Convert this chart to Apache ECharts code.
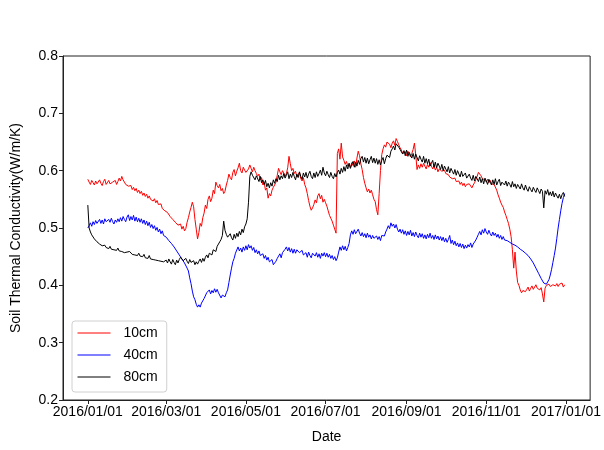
<!DOCTYPE html>
<html>
<head>
<meta charset="utf-8">
<script src="https://cdn.jsdelivr.net/npm/echarts@6/dist/echarts.min.js"></script>
<style>html,body{margin:0;padding:0;background:#fff}#c{width:604px;height:450px}</style>
</head>
<body>
<div id="c"></div>
<script>
// Daily series starting 2016/01/01
const startDate = '2016-01-01';
const stepDays = 1;
const seriesNames = ['10cm', '40cm', '80cm'];
const tickLabels = ['2016/01/01', '2016/03/01', '2016/05/01', '2016/07/01', '2016/09/01', '2016/11/01', '2017/01/01'];

const cm10 = [
0.585,0.580,0.576,0.583,0.579,0.575,0.582,0.577,0.580,0.584,
0.578,0.574,0.581,0.585,0.576,0.579,0.583,0.577,0.574,0.580,
0.578,0.583,0.576,0.581,0.587,0.582,0.590,0.584,0.580,0.576,
0.579,0.573,0.570,0.574,0.567,0.571,0.565,0.569,0.562,0.566,
0.560,0.564,0.557,0.561,0.555,0.559,0.552,0.556,0.550,0.553,
0.547,0.551,0.544,0.548,0.541,0.538,0.542,0.534,0.537,0.530,
0.533,0.527,0.524,0.520,0.523,0.515,0.518,0.510,0.513,0.505,
0.502,0.507,0.498,0.503,0.495,0.499,0.510,0.518,0.528,0.536,
0.545,0.537,0.515,0.498,0.481,0.492,0.508,0.503,0.518,0.526,
0.540,0.534,0.550,0.556,0.546,0.552,0.566,0.560,0.580,0.574,
0.570,0.576,0.565,0.569,0.560,0.564,0.575,0.583,0.594,0.588,
0.584,0.597,0.602,0.591,0.599,0.605,0.613,0.600,0.596,0.606,
0.601,0.597,0.594,0.603,0.610,0.604,0.598,0.606,0.600,0.595,
0.590,0.594,0.584,0.588,0.575,0.579,0.566,0.570,0.552,0.560,
0.556,0.566,0.571,0.575,0.580,0.592,0.604,0.598,0.593,0.600,
0.596,0.590,0.595,0.605,0.625,0.612,0.600,0.604,0.595,0.599,
0.589,0.593,0.597,0.586,0.582,0.588,0.576,0.570,0.560,0.548,
0.538,0.531,0.535,0.541,0.549,0.544,0.556,0.560,0.551,0.557,
0.545,0.550,0.544,0.538,0.530,0.522,0.517,0.512,0.505,0.498,
0.491,0.630,0.638,0.620,0.648,0.624,0.618,0.611,0.616,0.608,
0.612,0.605,0.614,0.609,0.617,0.606,0.622,0.634,0.626,0.612,
0.602,0.588,0.578,0.570,0.563,0.568,0.561,0.566,0.558,0.550,
0.546,0.532,0.523,0.560,0.600,0.628,0.638,0.645,0.641,0.650,
0.653,0.646,0.640,0.648,0.652,0.644,0.656,0.651,0.645,0.640,
0.636,0.630,0.627,0.633,0.626,0.634,0.629,0.624,0.630,0.637,
0.648,0.628,0.602,0.610,0.604,0.612,0.606,0.613,0.608,0.603,
0.611,0.606,0.614,0.608,0.603,0.609,0.601,0.606,0.598,0.603,
0.604,0.599,0.596,0.601,0.595,0.598,0.593,0.589,0.592,0.586,
0.583,0.587,0.581,0.578,0.582,0.576,0.580,0.574,0.578,0.572,
0.576,0.573,0.577,0.574,0.570,0.575,0.579,0.584,0.590,0.597,
0.598,0.591,0.586,0.589,0.584,0.580,0.585,0.579,0.583,0.577,
0.580,0.576,0.573,0.566,0.558,0.552,0.545,0.540,0.536,0.528,
0.522,0.515,0.508,0.498,0.485,0.462,0.430,0.458,0.425,0.405,
0.400,0.392,0.387,0.391,0.394,0.389,0.393,0.397,0.390,0.395,
0.399,0.393,0.396,0.401,0.395,0.398,0.392,0.396,0.385,0.371,
0.395,0.400,0.397,0.402,0.398,0.396,0.401,0.404,0.399,0.403,
0.398,0.402,0.399,0.404,0.397,0.401
];
const cm40 = [
0.500,0.504,0.509,0.503,0.511,0.506,0.513,0.508,0.510,0.515,
0.508,0.514,0.507,0.516,0.511,0.509,0.515,0.510,0.517,0.511,
0.507,0.514,0.510,0.516,0.511,0.518,0.512,0.520,0.515,0.511,
0.519,0.523,0.513,0.520,0.514,0.522,0.512,0.519,0.511,0.517,
0.510,0.516,0.508,0.514,0.506,0.512,0.504,0.510,0.501,0.506,
0.499,0.504,0.496,0.501,0.493,0.498,0.490,0.495,0.487,0.488,
0.484,0.483,0.478,0.479,0.473,0.474,0.467,0.466,0.460,0.459,
0.453,0.453,0.446,0.445,0.439,0.437,0.430,0.425,0.413,0.403,
0.390,0.380,0.375,0.367,0.362,0.366,0.362,0.369,0.371,0.377,
0.380,0.387,0.388,0.392,0.385,0.391,0.387,0.394,0.388,0.393,
0.387,0.385,0.378,0.383,0.384,0.380,0.387,0.392,0.405,0.418,
0.430,0.441,0.447,0.456,0.459,0.467,0.460,0.465,0.458,0.467,
0.461,0.469,0.462,0.471,0.465,0.469,0.461,0.466,0.457,0.462,
0.455,0.460,0.452,0.451,0.455,0.447,0.452,0.444,0.449,0.441,
0.441,0.445,0.436,0.437,0.442,0.447,0.449,0.455,0.448,0.457,
0.458,0.463,0.467,0.460,0.466,0.458,0.464,0.456,0.463,0.456,
0.462,0.465,0.457,0.456,0.461,0.453,0.451,0.457,0.449,0.458,
0.452,0.448,0.456,0.459,0.451,0.457,0.449,0.455,0.447,0.456,
0.451,0.457,0.450,0.456,0.449,0.454,0.447,0.452,0.445,0.450,
0.443,0.448,0.458,0.467,0.461,0.469,0.462,0.468,0.460,0.466,
0.473,0.488,0.495,0.489,0.497,0.490,0.487,0.498,0.491,0.486,
0.492,0.485,0.490,0.483,0.491,0.484,0.488,0.481,0.487,0.482,
0.479,0.486,0.480,0.485,0.478,0.487,0.490,0.486,0.493,0.498,
0.504,0.499,0.509,0.503,0.507,0.500,0.506,0.498,0.493,0.498,
0.491,0.497,0.489,0.495,0.487,0.494,0.488,0.496,0.486,0.492,
0.485,0.493,0.487,0.483,0.491,0.484,0.490,0.482,0.488,0.481,
0.489,0.483,0.491,0.482,0.487,0.480,0.488,0.481,0.486,0.479,
0.485,0.478,0.484,0.476,0.482,0.475,0.480,0.487,0.473,0.479,
0.471,0.477,0.469,0.474,0.467,0.473,0.466,0.472,0.464,0.470,
0.465,0.471,0.467,0.474,0.466,0.472,0.474,0.479,0.484,0.489,
0.494,0.488,0.497,0.491,0.499,0.493,0.489,0.496,0.490,0.486,
0.493,0.487,0.491,0.484,0.489,0.482,0.487,0.480,0.485,0.479,
0.482,0.478,0.480,0.475,0.477,0.472,0.475,0.470,0.472,0.467,
0.468,0.463,0.465,0.460,0.461,0.456,0.457,0.452,0.450,0.446,
0.444,0.439,0.436,0.430,0.428,0.421,0.418,0.412,0.409,0.404,
0.406,0.402,0.405,0.410,0.418,0.428,0.440,0.452,0.465,0.482,
0.500,0.515,0.530,0.543,0.553,0.560
];
const cm80 = [
0.540,0.500,0.493,0.488,0.485,0.481,0.478,0.476,0.474,0.472,
0.471,0.469,0.468,0.470,0.466,0.467,0.464,0.468,0.463,0.465,
0.462,0.464,0.461,0.465,0.460,0.462,0.459,0.461,0.457,0.460,
0.458,0.455,0.459,0.456,0.454,0.457,0.453,0.455,0.452,0.456,
0.451,0.453,0.450,0.454,0.448,0.451,0.447,0.452,0.446,0.449,
0.445,0.448,0.444,0.447,0.443,0.446,0.442,0.445,0.441,0.444,
0.444,0.439,0.446,0.441,0.437,0.445,0.440,0.436,0.444,0.439,
0.445,0.449,0.447,0.443,0.440,0.447,0.442,0.438,0.445,0.440,
0.437,0.443,0.436,0.441,0.437,0.442,0.446,0.440,0.447,0.442,
0.449,0.453,0.448,0.456,0.459,0.453,0.462,0.465,0.459,0.468,
0.472,0.476,0.480,0.487,0.512,0.496,0.489,0.484,0.481,0.490,
0.483,0.479,0.489,0.482,0.491,0.485,0.494,0.488,0.498,0.492,
0.502,0.507,0.516,0.545,0.590,0.598,0.592,0.589,0.584,0.591,
0.588,0.581,0.590,0.579,0.584,0.576,0.583,0.572,0.578,0.570,
0.579,0.573,0.584,0.578,0.586,0.581,0.592,0.584,0.591,0.586,
0.595,0.587,0.592,0.598,0.586,0.594,0.588,0.597,0.590,0.584,
0.594,0.588,0.598,0.590,0.585,0.596,0.589,0.597,0.587,0.594,
0.599,0.590,0.586,0.596,0.588,0.598,0.590,0.595,0.601,0.592,
0.606,0.596,0.591,0.599,0.593,0.588,0.597,0.590,0.586,0.595,
0.589,0.597,0.601,0.594,0.604,0.597,0.607,0.599,0.610,0.603,
0.613,0.604,0.611,0.616,0.606,0.615,0.608,0.618,0.611,0.621,
0.625,0.615,0.623,0.613,0.622,0.612,0.619,0.625,0.614,0.622,
0.613,0.621,0.611,0.619,0.610,0.618,0.623,0.612,0.621,0.627,
0.630,0.623,0.634,0.638,0.643,0.636,0.647,0.650,0.641,0.637,
0.638,0.629,0.635,0.626,0.636,0.625,0.632,0.634,0.622,0.630,
0.620,0.629,0.626,0.617,0.626,0.620,0.615,0.625,0.613,0.621,
0.612,0.620,0.608,0.613,0.618,0.606,0.615,0.605,0.613,0.608,
0.602,0.611,0.600,0.608,0.603,0.598,0.607,0.596,0.604,0.599,
0.594,0.602,0.592,0.600,0.597,0.589,0.599,0.590,0.588,0.596,
0.587,0.584,0.594,0.587,0.583,0.592,0.582,0.590,0.586,0.581,
0.589,0.579,0.586,0.577,0.587,0.582,0.576,0.585,0.580,0.575,
0.584,0.576,0.586,0.575,0.581,0.585,0.574,0.580,0.583,0.575,
0.582,0.573,0.580,0.576,0.571,0.581,0.572,0.577,0.569,0.576,
0.574,0.568,0.577,0.570,0.566,0.575,0.568,0.564,0.572,0.567,
0.563,0.571,0.566,0.562,0.570,0.565,0.560,0.568,0.564,0.535,
0.565,0.559,0.567,0.557,0.563,0.556,0.564,0.554,0.561,0.556,
0.552,0.559,0.551,0.558,0.562,0.555
];

const DAY = 86400000;
const t0 = Date.parse(startDate + 'T00:00:00Z');
function toPairs(arr) { return arr.map((v, i) => [t0 + i * stepDays * DAY, v]); }
function parseTick(s) { const p = s.split('/'); return Date.UTC(+p[0], +p[1] - 1, +p[2]); }
const tickValues = tickLabels.map(parseTick);
function fmt(v) {
  const d = new Date(v);
  const p = n => (n < 10 ? '0' : '') + n;
  return d.getUTCFullYear() + '/' + p(d.getUTCMonth() + 1) + '/' + p(d.getUTCDate());
}

const FONT = 'Liberation Sans, Arial, sans-serif';
const chart = echarts.init(document.getElementById('c'), null, { renderer: 'canvas' });
const colors = ['#ff0000', '#0000ff', '#000000'];
const allData = [cm10, cm40, cm80];

chart.setOption({
  animation: false,
  backgroundColor: '#ffffff',
  grid: { left: 63, right: 12, top: 56, bottom: 50, show: true, borderColor: '#222', borderWidth: 1, backgroundColor: 'transparent' },
  legend: {
    orient: 'vertical', left: 72, top: 321,
    padding: [5, 9, 8, 5],
    itemWidth: 33, itemHeight: 14, itemGap: 8,
    backgroundColor: 'rgba(255,255,255,0.8)',
    borderColor: '#d0d0d0', borderWidth: 1, borderRadius: 3,
    itemStyle: { opacity: 0 },
    lineStyle: { width: 1 },
    textStyle: { fontFamily: FONT, fontSize: 14, color: '#000', padding: [0, 0, 0, 8] },
    data: seriesNames
  },
  xAxis: {
    type: 'value',
    min: t0 - 19 * DAY,
    max: Date.UTC(2017, 0, 1) + 18.5 * DAY,
    name: 'Date', nameLocation: 'middle', nameGap: 30,
    nameTextStyle: { fontFamily: FONT, fontSize: 14, color: '#000' },
    axisLine: { show: true, onZero: false, lineStyle: { color: '#222', width: 1 } },
    axisTick: { show: true, inside: false, length: 4, lineStyle: { color: '#222' }, customValues: tickValues },
    axisLabel: { fontFamily: FONT, fontSize: 14, color: '#000', margin: 5, customValues: tickValues, formatter: fmt, hideOverlap: false },
    splitLine: { show: false }
  },
  yAxis: {
    type: 'value', min: 0.2, max: 0.8, interval: 0.1,
    name: 'Soil Thermal Conductivity(W/m/K)', nameLocation: 'middle', nameGap: 40, nameRotate: 90,
    nameTextStyle: { fontFamily: FONT, fontSize: 14, color: '#000' },
    axisLine: { show: true, lineStyle: { color: '#222', width: 1 } },
    axisTick: { show: true, inside: false, length: 4, lineStyle: { color: '#222' } },
    axisLabel: { fontFamily: FONT, fontSize: 14, color: '#000', margin: 5, formatter: v => v.toFixed(1) },
    splitLine: { show: false }
  },
  series: seriesNames.map((n, i) => ({
    name: n, type: 'line', data: toPairs(allData[i]),
    symbol: 'none', showSymbol: false,
    lineStyle: { color: colors[i], width: 1 },
    itemStyle: { color: colors[i] },
    z: 2 + i
  }))
});
</script>
</body>
</html>
